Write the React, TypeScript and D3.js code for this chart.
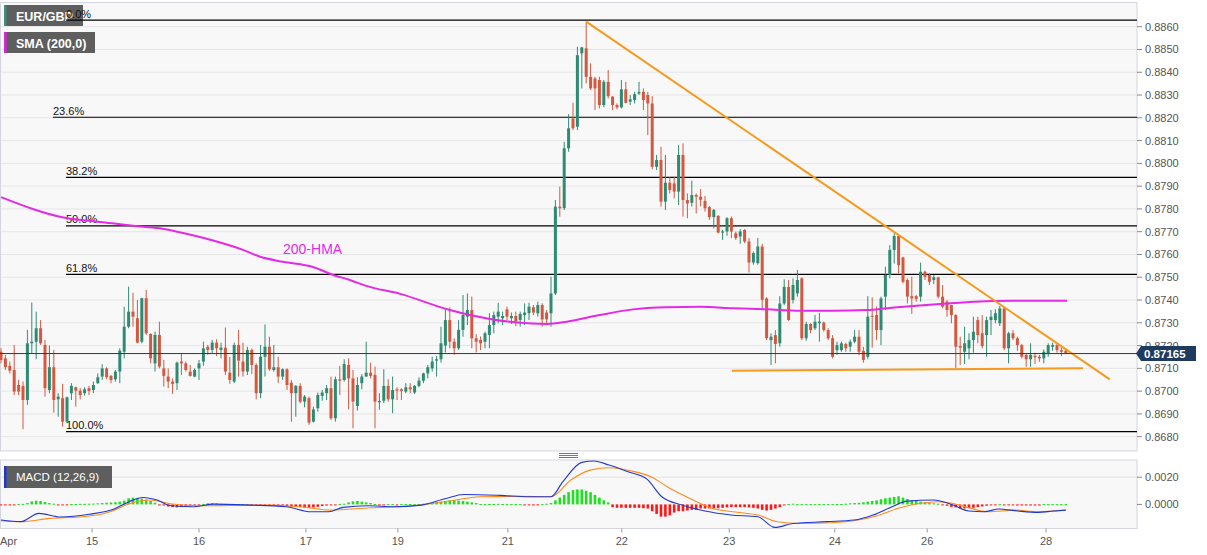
import React from "react";
import * as d3 from "d3";

// ---------- DATA ----------
// hourly candles [open, high, low, close]
const ohlc: number[][] = [
[.87173,.87188,.87122,.87137],[.87144,.87159,.87093,.87105],[.87111,.87130,.87078,.87090],[.87093,.87203,.86983,.86998],
[.87027,.87049,.86983,.86998],[.87023,.87042,.86833,.86961],[.86961,.87269,.86940,.87210],[.87210,.87389,.87166,.87217],
[.87217,.87349,.87140,.87276],[.87276,.87312,.87203,.87210],[.87203,.87225,.86976,.87013],[.87005,.87200,.86991,.87105],
[.87105,.87181,.86906,.86961],[.86964,.86991,.86888,.86976],[.86969,.87032,.86844,.86866],[.86866,.86976,.86859,.86973],
[.86991,.87035,.86961,.87023],[.87017,.87020,.86932,.87002],[.87002,.87013,.86964,.86983],[.86991,.87017,.86980,.87008],
[.87013,.87023,.86983,.87001],[.87005,.87042,.86991,.87027],[.87035,.87078,.87032,.87061],[.87064,.87118,.87049,.87100],
[.87100,.87105,.87052,.87061],[.87067,.87071,.87035,.87049],[.87052,.87093,.87042,.87086],[.87086,.87188,.87035,.87178],
[.87173,.87371,.87144,.87283],[.87283,.87459,.87276,.87349],[.87349,.87432,.87283,.87327],[.87320,.87400,.87210,.87213],
[.87217,.87410,.87210,.87408],[.87408,.87444,.87247,.87254],[.87251,.87254,.87122,.87144],[.87122,.87261,.87086,.87247],
[.87247,.87305,.87100,.87108],[.87100,.87137,.87020,.87067],[.87064,.87100,.87013,.87042],[.87042,.87056,.86988,.87032],
[.87035,.87130,.87005,.87125],[.87130,.87166,.87071,.87122],[.87122,.87130,.87086,.87093],[.87086,.87115,.87064,.87067],
[.87064,.87100,.87061,.87093],[.87100,.87137,.87049,.87122],[.87130,.87217,.87111,.87188],[.87195,.87203,.87159,.87181],
[.87181,.87225,.87163,.87213],[.87213,.87228,.87154,.87188],[.87181,.87213,.87144,.87191],[.87191,.87279,.87071,.87086],
[.87081,.87151,.87032,.87049],[.87042,.87213,.87035,.87203],[.87203,.87269,.87064,.87134],[.87130,.87213,.87064,.87086],
[.87086,.87195,.87071,.87181],[.87181,.87188,.87075,.87115],[.87115,.87122,.86964,.86991],[.86991,.87203,.86969,.87151],
[.87151,.87293,.87064,.87195],[.87195,.87239,.87090,.87096],[.87093,.87203,.87086,.87105],[.87105,.87151,.87035,.87064],
[.87064,.87100,.87049,.87096],[.87096,.87100,.87005,.87027],[.87037,.87049,.86866,.86991],[.86991,.87027,.86888,.87023],
[.87023,.87035,.86947,.86954],[.86954,.86983,.86929,.86976],[.86969,.86976,.86852,.86862],[.86866,.86932,.86862,.86920],
[.86925,.86994,.86910,.86983],[.86979,.87005,.86958,.86994],[.86991,.87027,.86961,.87013],[.87013,.87064,.86873,.86881],
[.86881,.87064,.86866,.87052],[.87052,.87111,.86983,.87046],[.87049,.87140,.87042,.87119],[.87115,.87144,.86920,.87056],
[.87056,.87093,.86837,.86954],[.86935,.87061,.86915,.87027],[.87035,.87075,.87008,.87064],[.87064,.87217,.87064,.87081],
[.87081,.87125,.87056,.87067],[.87071,.87108,.86837,.86954],[.86951,.86991,.86918,.86957],[.86958,.87096,.86947,.87023],
[.87023,.87052,.86954,.86964],[.86964,.87064,.86903,.87005],[.87008,.87017,.86961,.87002],[.87008,.87013,.86961,.87001],
[.86998,.87035,.86991,.87017],[.87017,.87035,.86991,.87008],[.86994,.87027,.86988,.87023],[.87023,.87061,.87017,.87046],
[.87046,.87081,.87035,.87078],[.87078,.87115,.87056,.87105],[.87100,.87151,.87086,.87130],[.87134,.87154,.87064,.87140],
[.87140,.87283,.87125,.87210],[.87200,.87364,.87170,.87312],[.87312,.87368,.87188,.87217],[.87217,.87232,.87160,.87188],
[.87188,.87312,.87181,.87269],[.87269,.87422,.87239,.87334],[.87327,.87429,.87290,.87356],[.87356,.87415,.87188,.87232],
[.87232,.87250,.87170,.87217],[.87225,.87240,.87180,.87210],[.87217,.87261,.87188,.87254],[.87247,.87342,.87188,.87290],
[.87290,.87349,.87254,.87334],[.87327,.87388,.87298,.87349],[.87320,.87349,.87290,.87330],[.87359,.87371,.87312,.87327],
[.87320,.87345,.87295,.87330],[.87330,.87349,.87286,.87305],[.87312,.87349,.87283,.87339],[.87334,.87385,.87290,.87345],
[.87342,.87388,.87312,.87371],[.87368,.87378,.87334,.87345],[.87342,.87393,.87327,.87378],[.87378,.87386,.87283,.87315],
[.87345,.87356,.87290,.87315],[.87342,.87502,.87283,.87429],[.87429,.87839,.87422,.87810],[.87810,.87898,.87766,.87803],
[.87803,.88095,.87795,.88066],[.88066,.88216,.88051,.88154],[.88197,.88266,.88146,.88154],[.88161,.88512,.88146,.88475],
[.88483,.88512,.88329,.88509],[.88505,.88622,.88351,.88380],[.88380,.88439,.88322,.88329],[.88373,.88380,.88234,.88329],
[.88366,.88380,.88241,.88256],[.88256,.88366,.88246,.88358],[.88358,.88410,.88285,.88295],[.88293,.88295,.88234,.88256],
[.88256,.88263,.88237,.88246],[.88246,.88366,.88241,.88325],[.88325,.88358,.88263,.88266],[.88271,.88300,.88256,.88281],
[.88278,.88314,.88263,.88304],[.88307,.88358,.88300,.88314],[.88314,.88329,.88234,.88278],[.88300,.88314,.88124,.88263],
[.88263,.88295,.87974,.87985],[.87985,.88037,.87971,.88015],[.88015,.88073,.87810,.87832],[.87832,.88037,.87795,.87915],
[.87915,.87941,.87868,.87883],[.87912,.87941,.87846,.87876],[.87876,.88080,.87817,.88037],[.88037,.88088,.87766,.87839],
[.87839,.87868,.87759,.87824],[.87827,.87924,.87810,.87861],[.87861,.87868,.87780,.87854],[.87854,.87887,.87811,.87840],
[.87835,.87857,.87788,.87803],[.87808,.87813,.87752,.87764],[.87764,.87799,.87715,.87796],[.87770,.87772,.87693,.87696],
[.87696,.87708,.87664,.87701],[.87701,.87764,.87682,.87759],[.87759,.87767,.87672,.87701],[.87693,.87701,.87664,.87672],
[.87679,.87711,.87647,.87701],[.87708,.87711,.87650,.87657],[.87657,.87672,.87521,.87565],[.87565,.87613,.87555,.87606],
[.87562,.87672,.87555,.87635],[.87635,.87647,.87357,.87401],[.87407,.87412,.87224,.87232],[.87224,.87254,.87115,.87239],
[.87246,.87268,.87122,.87207],[.87210,.87417,.87195,.87385],[.87385,.87491,.87378,.87458],[.87458,.87488,.87309,.87312],
[.87400,.87495,.87385,.87466],[.87429,.87532,.87415,.87488],[.87495,.87500,.87224,.87232],[.87232,.87305,.87221,.87295],
[.87295,.87298,.87254,.87268],[.87276,.87334,.87268,.87305],[.87298,.87344,.87217,.87305],[.87301,.87305,.87261,.87268],
[.87268,.87276,.87224,.87232],[.87232,.87246,.87144,.87151],[.87180,.87217,.87159,.87202],[.87180,.87217,.87173,.87210],
[.87207,.87213,.87173,.87188],[.87195,.87227,.87173,.87217],[.87217,.87268,.87210,.87239],[.87239,.87268,.87158,.87173],
[.87177,.87195,.87125,.87137],[.87151,.87417,.87140,.87327],[.87331,.87412,.87191,.87327],[.87334,.87371,.87224,.87268],
[.87268,.87415,.87202,.87407],[.87415,.87546,.87356,.87510],[.87510,.87641,.87495,.87620],[.87620,.87693,.87560,.87681],
[.87681,.87686,.87517,.87553],[.87587,.87590,.87473,.87480],[.87488,.87495,.87385,.87415],[.87417,.87502,.87339,.87407],
[.87417,.87422,.87393,.87405],[.87415,.87564,.87393,.87524],[.87524,.87529,.87488,.87502],[.87510,.87517,.87466,.87480],
[.87488,.87510,.87470,.87500],[.87500,.87502,.87407,.87415],[.87415,.87466,.87363,.87371],[.87393,.87400,.87327,.87356],
[.87378,.87378,.87298,.87334],[.87334,.87338,.87100,.87195],[.87198,.87239,.87115,.87191],[.87173,.87283,.87119,.87210],
[.87188,.87254,.87140,.87224],[.87224,.87327,.87169,.87261],[.87312,.87327,.87210,.87246],[.87254,.87334,.87188,.87198],
[.87246,.87327,.87151,.87312],[.87312,.87356,.87246,.87327],[.87312,.87359,.87298,.87342],[.87298,.87374,.87286,.87363],
[.87363,.87368,.87180,.87188],[.87188,.87261,.87122,.87254],[.87254,.87268,.87224,.87232],[.87232,.87239,.87177,.87202],
[.87202,.87207,.87144,.87151],[.87159,.87166,.87107,.87140],[.87140,.87210,.87107,.87159],[.87155,.87169,.87119,.87149],
[.87151,.87159,.87129,.87144],[.87144,.87183,.87122,.87173],[.87166,.87210,.87151,.87202],[.87195,.87213,.87177,.87202],
[.87202,.87213,.87169,.87180],[.87180,.87198,.87154,.87173],[.87177,.87188,.87163,.87165]
];

// 200-period moving average readings [candle index, value]
const hma: number[][] = [
[0,.87852],[14.8,.87760],[22.5,.87743],[30,.87726],[36.1,.87715],[41.4,.87694],[48.2,.87661],[55,.87620],
[58.9,.87590],[64.1,.87568],[70.9,.87545],[75.5,.87510],[79.3,.87488],[83,.87462],[90.7,.87427],[102,.87356],
[111.1,.87317],[117.3,.87301],[124.1,.87295],[128.6,.87305],[136.1,.87334],[143.6,.87359],[151.4,.87368],
[158.9,.87370],[166.4,.87364],[174.1,.87359],[181.6,.87353],[189.1,.87353],[196.8,.87356],[201.4,.87364],
[207.3,.87374],[213.4,.87383],[219.5,.87390],[225.5,.87396],[231.6,.87397],[242.3,.87397]
];

// MACD (12,26,9) readings [candle index, value]
const macdLine: number[][] = [
[0,-.00115],[4.5,-.00127],[8.6,-.00066],[13.6,-.00093],[20,-.00073],[25.7,-.00034],[29.1,.0002],[32.3,.00051],
[35.5,.00032],[38.6,-.0001],[43.6,-.00017],[48.4,.00002],[56.6,-.00005],[64.8,-.00017],[70.5,-.00054],[74.5,-.00054],
[77.7,-.00022],[83.4,-.0001],[89.1,-.00017],[95.5,-.00005],[101.1,.00044],[105.2,.00073],[113.4,.00066],[120,.00056],
[125,.00056],[127.7,.00167],[132,.00309],[134.8,.00319],[138.2,.00289],[142.5,.0024],[146.8,.00186],[150.2,.00056],
[154.8,-.00005],[160,-.00049],[165.9,-.00078],[172,-.00091],[175.9,-.00169],[180,-.0014],[187.7,-.00127],
[193.9,-.00115],[198.2,-.00078],[202.5,-.00017],[205.9,.00024],[212,.00032],[216.4,-.00005],[220,-.00049],
[223.4,-.00054],[226.8,-.00034],[231.1,-.00049],[235.7,-.00059],[239.1,-.00049],[242,-.00042]
];
const signalLine: number[][] = [
[0,-.0012],[4.5,-.00127],[11.1,-.00103],[18,-.00093],[24.8,-.00054],[29.3,.00007],[33.9,.00032],[38.4,.00005],
[45.2,-.0001],[58.9,-.00005],[68,-.00017],[74.8,-.00042],[83.9,-.00025],[93,-.00012],[102,.00025],[108.9,.00056],
[118,.00059],[125,.00056],[129.5,.00179],[133.9,.00252],[138.2,.0027],[143.4,.00245],[147.7,.00203],[152,.00118],
[157.3,.00032],[161.6,-.00029],[167.7,-.00059],[172,-.00078],[176.4,-.00127],[181.6,-.0014],[188.6,-.00135],
[194.8,-.00115],[199.1,-.00083],[204.3,-.00025],[208.6,.00007],[213,.0002],[216.4,.00007],[220,-.00025],
[224.3,-.00054],[230.5,-.00042],[235.7,-.00054],[242,-.00042]
];
// MACD histogram, one value per candle
const macdHist: number[] = [
-.00003,-.00003,-.00002,-.00002,.00002,.00004,.0001,.00022,.00027,.00025,.00018,.0001,.00005,-.00004,-.00004,-.00003,
.00003,.00003,.00004,.00004,.00005,.00006,.00008,.0001,.00012,.00014,.00016,.0002,.00028,.00045,.0005,.00048,
.00042,.00035,.00025,.00012,-.00003,-.00008,-.00015,-.0002,-.00022,-.0002,-.00018,-.00015,-.0001,-.00005,.00003,.00008,
.0001,.00008,.00004,.00002,-.00002,-.00003,.00002,.00002,-.00002,-.00006,-.0001,-.00008,-.00003,-.00003,-.00005,-.00008,
-.0001,-.00012,-.00015,-.00018,-.0002,-.00024,-.00025,-.00022,-.00018,-.00012,-.00008,-.00004,-.00002,.00002,.00005,.00015,
.00022,.00025,.0002,.00015,.0001,.00003,-.00002,-.00003,.00002,.00002,-.00002,.00002,.00002,.00003,.00002,.00003,
.00005,.00008,.0001,.00015,.0002,.00025,.0003,.0003,.00028,.00025,.0002,.00015,.0001,.00003,.00002,.00003,
.00003,.00004,.00003,.00002,.00002,.00002,.00002,-.00002,-.00002,-.00003,-.00003,.00002,.00005,.0001,.0003,.0005,
.0007,.0009,.00105,.0011,.0011,.001,.0009,.0007,.0005,.0003,.00015,-.0002,-.00025,-.00025,-.00025,-.00025,
-.00025,-.00025,-.00028,-.0003,-.0005,-.0007,-.0009,-.0009,-.0008,-.0006,-.0005,-.0005,-.00045,-.0004,-.0004,-.0003,
-.0003,-.0003,-.0003,-.00028,-.00025,-.00022,-.0002,-.0002,-.0002,-.0002,-.00022,-.00025,-.0003,-.0004,-.00045,-.0004,
-.0003,-.0002,-.00005,.00002,.00005,.00002,.00002,.00002,.00002,.00002,.00002,.00002,.00002,.00002,.00003,.00003,
.00005,.00008,.0001,.00012,.00015,.0002,.00025,.0003,.00038,.00045,.0005,.00055,.0006,.0005,.0004,.0003,
.00025,.0002,.00015,.0001,.00008,.00005,-.00005,-.0001,-.00018,-.00022,-.0003,-.0003,-.00028,-.00025,-.0002,-.00015,
-.0001,-.00003,-.00002,.00002,-.00002,-.00002,-.00003,-.00008,-.00008,-.00008,-.00008,-.00008,-.00008,.00002,.00002,.00002,
.00002,.00002,.00002
];

const priceTicks = [0.868,0.869,0.870,0.871,0.872,0.873,0.874,0.875,0.876,0.877,0.878,0.879,0.880,0.881,0.882,0.883,0.884,0.885,0.886];
const macdTicks = [0.002, 0.0];
const dayTickIdx = [20.7, 45, 69.3, 90.2, 115.2, 141.1, 165.5, 189.5, 210.5, 237.5];
const dayTickLabels = ["15", "16", "17", "19", "21", "22", "23", "24", "26", "28"];

const fibHigh = 0.88629;
const fibLow = 0.86822;
const fibRatios = [0, 0.236, 0.382, 0.5, 0.618, 1];
const fibLabels = ["0.0%", "23.6%", "38.2%", "50.0%", "61.8%", "100.0%"];

// trendlines [candle index, price]
const resistanceLine = [[133, 0.88622], [252, 0.87052]];
const supportLine = [[166.1, 0.87090], [245.9, 0.87100]];
const lastPrice = 0.87165;

// ---------- LAYOUT ----------
const W = 1207, H = 555;
const plotR = 1137;
const mainTop = 2.5, mainBot = 451;
const macdTop = 460, macdBot = 528.5;
const FONT = "'Liberation Sans', Arial, sans-serif";
const GREEN = "#2e8b72", RED = "#d4583f";

export default function App() {
  const x = d3.scaleLinear().domain([0, 258]).range([1, 1136.2]);
  const y = d3.scaleLinear().domain([0.868, 0.886]).range([436.7, 26.7]);
  const ym = d3.scaleLinear().domain([0, 0.002]).range([504.4, 477.2]);

  const hmaPath = d3.line<number[]>().x(d => x(d[0])).y(d => y(d[1])).curve(d3.curveMonotoneX)(hma) || "";
  const macdPath = d3.line<number[]>().x(d => x(d[0])).y(d => ym(d[1])).curve(d3.curveMonotoneX)(macdLine) || "";
  const sigPath = d3.line<number[]>().x(d => x(d[0])).y(d => ym(d[1])).curve(d3.curveMonotoneX)(signalLine) || "";
  const trend = d3.line<number[]>().x(d => x(d[0])).y(d => y(d[1]));

  const yLast = y(lastPrice);

  return (
    <svg width={W} height={H} style={{ position: "absolute", left: 0, top: 0, background: "#fff" }} fontFamily={FONT}>
      <defs>
        <clipPath id="mainClip"><rect x={0} y={mainTop} width={plotR} height={mainBot - mainTop} /></clipPath>
        <clipPath id="macdClip"><rect x={0} y={macdTop} width={plotR} height={macdBot - macdTop} /></clipPath>
      </defs>
      {/* main panel background */}
      <rect x={0.5} y={mainTop} width={plotR - 0.5} height={mainBot - mainTop} fill="#f8f8f9" stroke="#d5d5de" />
      {priceTicks.map(p => (
        <line key={"g" + p} x1={1} x2={plotR} y1={y(p)} y2={y(p)} stroke="#e6e6e9" strokeWidth={1} />
      ))}

      {/* legend boxes */}
      <rect x={4} y={5} width={79} height={21} fill="#555" opacity={0.95} />
      <rect x={4} y={5} width={2.5} height={21} fill="#3b8f7c" />
      <text x={16} y={20.5} fill="#fff" fontSize={12.5} fontWeight="bold">EUR/GBP</text>
      <rect x={4} y={32} width={91} height={21} fill="#555" opacity={0.95} />
      <rect x={4} y={32} width={2.5} height={21} fill="#e020e0" />
      <text x={16} y={47.5} fill="#fff" fontSize={12.5} fontWeight="bold">SMA (200,0)</text>

      {/* fibonacci levels */}
      {fibRatios.map((r, k) => {
        const v = fibHigh - r * (fibHigh - fibLow);
        const x0 = r === 0.236 ? 53 : 66;
        return (
          <g key={"f" + r}>
            <line x1={x0} x2={plotR} y1={y(v)} y2={y(v)} stroke="#000" strokeWidth={1.2} />
            <text x={x0} y={y(v) - 2.5} fontSize={11} fill="#111">{fibLabels[k]}</text>
          </g>
        );
      })}

      <g clipPath="url(#mainClip)">
        {/* candles */}
        {ohlc.map((d, i) => {
          const [o, h, l, c] = d;
          const col = c >= o ? GREEN : RED;
          const cx = x(i);
          const top = y(Math.max(o, c));
          const bh = Math.max(1, Math.abs(y(o) - y(c)));
          return (
            <g key={"c" + i}>
              <line x1={cx} x2={cx} y1={y(h)} y2={y(l)} stroke={col} strokeWidth={1} />
              <rect x={cx - 1.5} y={top} width={3} height={bh} fill={col} />
            </g>
          );
        })}
        {/* moving average */}
        <path d={hmaPath} fill="none" stroke="#e52ae5" strokeWidth={2} />
        {/* trend lines */}
        <path d={trend(resistanceLine) || ""} fill="none" stroke="#f59a1b" strokeWidth={2} />
        <path d={trend(supportLine) || ""} fill="none" stroke="#f59a1b" strokeWidth={2} />
        {/* last price line */}
        <line x1={0} x2={plotR} y1={yLast} y2={yLast} stroke="#1f3a5f" strokeWidth={1} />
      </g>
      <text x={283} y={254} fontSize={14} fill="#e52ae5">200-HMA</text>

      {/* right price axis */}
      {priceTicks.map(p => (
        <g key={"t" + p}>
          <line x1={plotR} x2={plotR + 5} y1={y(p)} y2={y(p)} stroke="#888" />
          <text x={1145} y={y(p) + 4} fontSize={11} fill="#555">{p.toFixed(4)}</text>
        </g>
      ))}
      <path d={`M${plotR - 1},${yLast} L${plotR + 4},${yLast - 7.5} L1196,${yLast - 7.5} L1196,${yLast + 7.5} L${plotR + 4},${yLast + 7.5} Z`} fill="#1f3a5f" />
      <text x={1144} y={yLast + 4} fontSize={11.5} fontWeight="bold" fill="#fff">{lastPrice.toFixed(5)}</text>

      {/* panel separator handle */}
      {[453.5, 455.5, 457.5].map(v => (
        <line key={"h" + v} x1={559} x2={578} y1={v} y2={v} stroke="#777" strokeWidth={1} />
      ))}

      {/* MACD panel */}
      <rect x={0.5} y={macdTop} width={plotR - 0.5} height={macdBot - macdTop} fill="#f8f8f9" stroke="#d5d5de" />
      <line x1={1} x2={plotR} y1={ym(0.002)} y2={ym(0.002)} stroke="#e3e3e6" />
      <g clipPath="url(#macdClip)">
        {macdHist.map((v, i) => (
          <rect key={"hb" + i} x={x(i) - 1.3} width={2.6}
            y={Math.min(ym(v), ym(0))} height={Math.max(1, Math.abs(ym(v) - ym(0)))}
            fill={v >= 0 ? "#1ee01e" : "#ff1616"} />
        ))}
        <path d={sigPath} fill="none" stroke="#ff8a1c" strokeWidth={1.1} />
        <path d={macdPath} fill="none" stroke="#2038d0" strokeWidth={1.1} />
      </g>
      <rect x={4} y={466} width={108} height={22} fill="#555" opacity={0.95} />
      <rect x={4} y={466} width={2.5} height={22} fill="#2038d0" />
      <text x={16} y={481} fill="#fff" fontSize={11.5}>MACD (12,26,9)</text>
      {macdTicks.map(v => (
        <g key={"m" + v}>
          <line x1={plotR} x2={plotR + 5} y1={ym(v)} y2={ym(v)} stroke="#888" />
          <text x={1145} y={ym(v) + 4} fontSize={11} fill="#555">{v.toFixed(4)}</text>
        </g>
      ))}

      {/* time axis */}
      <text x={0} y={545} fontSize={11} fill="#555">Apr</text>
      {dayTickIdx.map((t, k) => (
        <g key={"d" + k}>
          <line x1={x(t)} x2={x(t)} y1={macdBot} y2={macdBot + 4} stroke="#999" />
          <text x={x(t)} y={545} fontSize={11} fill="#555" textAnchor="middle">{dayTickLabels[k]}</text>
        </g>
      ))}
    </svg>
  );
}
